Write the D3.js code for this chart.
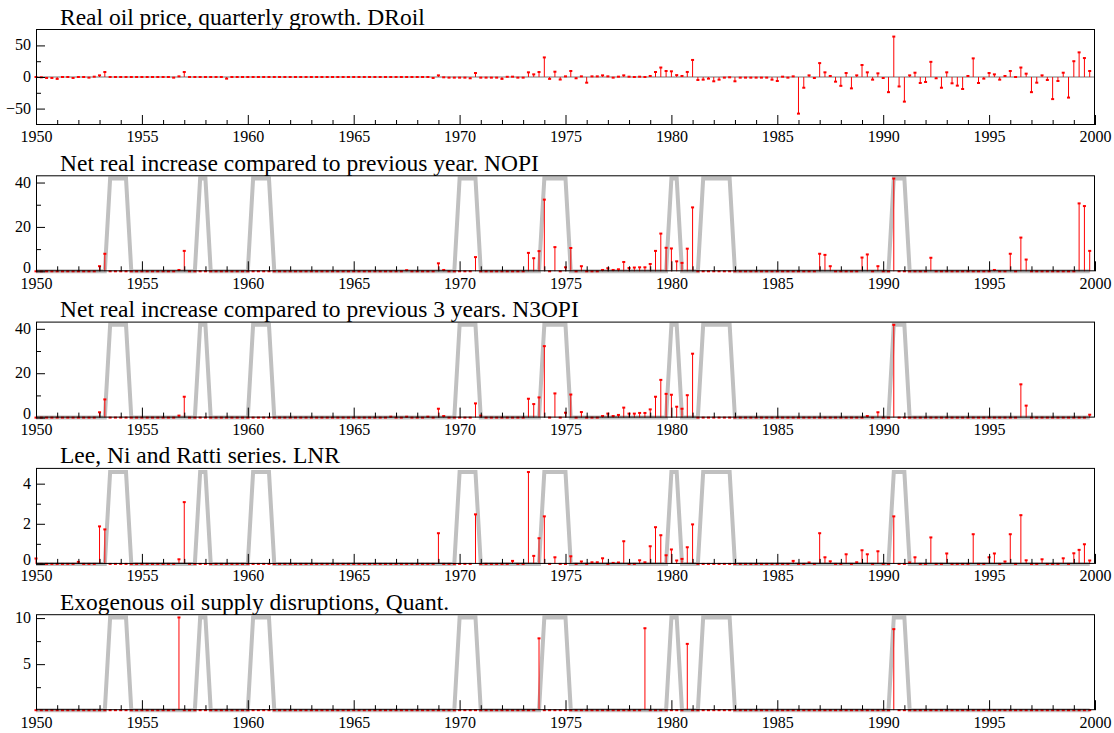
<!DOCTYPE html>
<html>
<head>
<meta charset="utf-8">
<script src="https://cdn.jsdelivr.net/npm/d3@7"></script>
<style>
  body { margin: 0; background: #fff; }
</style>
</head>
<body>
<svg id="chart" width="1114" height="733"></svg>
<script>
// ---------------- DATA ----------------
const titles = [
  "Real oil price, quarterly growth. DRoil",
  "Net real increase compared to previous year. NOPI",
  "Net real increase compared to previous 3 years. N3OPI",
  "Lee, Ni and Ratti series. LNR",
  "Exogenous oil supply disruptions, Quant."
];

// quarterly dates 1950Q1 .. 1999Q4 (year + (q-1)/4)
const quarters = d3.range(200).map(i => 1950 + i / 4);

// DRoil: every quarter, 1950Q1 .. 1999Q4
const droil = [
  0, -0.5, -1.5, -1.5, -3, 0, 0, -1.5, 0, 0,
  -1, 0.5, 2.6, 7.9, 0, 0, 0, 0, 0, 0,
  0, 0, 0, 0, 0, 0, -1, 1, 7.9, 0,
  0, 0, 0, 0, 0, 0, -2.6, 0, 0, 0,
  0, 0, 0, 0, 0, 0, 0, 0, 0, 0,
  0, 0, 0, 0, 0, 0, 0, 0, 0, 0,
  0, 0, 0, 0, 0, 0, 0, 0, 0, 0,
  0, 0, 0, 0, 0, -1.5, 2.6, -0.5, -1, -1,
  -1, -1, -2, 6.3, -1, -1, -1, -1, -3, 0.3,
  0.5, -1, -1, 7.4, 4.2, 7.9, 31, -3, 8.4, -4,
  1, 9.5, -2, 1, -9, 1, 1, 2.6, 1, -1,
  0.5, 2.6, 0.5, 0, 0.5, 0, 1.6, 7.9, 15, 9.5,
  9, 3, 1.6, 8, 27, -4.7, -4.2, -2.6, -6.8, -4.2,
  -1, -0.5, -6.8, -1, -1, -1, -1, -1, -1, -4.2,
  -6.3, 0.5, -1, 1, -58, -17, 2.6, -1.6, 22, 7.4,
  1.6, -7.4, -14, 6.3, -18, 2.6, 19, 7.4, -4.2, 5.8,
  -1.6, -24, 64, -15, -39, 2.6, 6.8, -9.5, -7.9, 24,
  -2, -17, 7.4, -10, -13.7, -19, 1.6, 29.5, -9.5, -2.6,
  6.3, 4.2, -4.2, 1.6, 9.5, 0, 15, 5.3, -24, -9,
  2.6, -4.7, -35, -6.3, 6.8, -32.6, 25, 39, 30, 9.5
];

// NOPI: non-zero quarters only (all other quarters are 0)
const nopiDates = [1953, 1953.25, 1956.75, 1957, 1967.5, 1969, 1969.25, 1970.75,
  1973.25, 1973.5, 1973.75, 1974, 1974.5, 1975, 1975.25, 1975.75, 1976.75,
  1977, 1977.25, 1977.5, 1977.75, 1978, 1978.25, 1978.5, 1978.75,
  1979, 1979.25, 1979.5, 1979.75, 1980, 1980.25, 1980.5, 1980.75, 1981,
  1987, 1987.25, 1987.5, 1989, 1989.25, 1989.75, 1990.5, 1992.25, 1995.25,
  1996, 1996.5, 1996.75, 1999.25, 1999.5, 1999.75];
const nopiValues = [2.3, 7.9, 0.6, 9.2, 0.5, 3.6, 0.6, 6.4,
  8.3, 5.9, 9.1, 32.3, 10.9, 1.8, 10.5, 2.3, 0.6,
  1.4, 0.6, 0.9, 4.2, 1.5, 1.7, 1.8, 1.8,
  3.3, 9.2, 17, 10.6, 10.3, 4.5, 3.8, 10.2, 28.8,
  7.9, 7.4, 2.3, 6.2, 7.6, 2.3, 41.8, 6.1, 0.6,
  7.9, 15.2, 5.3, 30.6, 29.4, 9.2];

// N3OPI
const n3opiDates = [1953, 1953.25, 1956.75, 1957, 1966.75, 1967.5, 1968.5, 1969, 1969.25,
  1970.75, 1971, 1973.25, 1973.5, 1973.75, 1974, 1974.5, 1975, 1975.25, 1975.75, 1976.75,
  1977, 1977.25, 1977.5, 1977.75, 1978, 1978.25, 1978.5, 1978.75,
  1979, 1979.25, 1979.5, 1979.75, 1980, 1980.25, 1980.5, 1980.75, 1981,
  1989.25, 1989.75, 1990.5, 1996.5, 1996.75, 1999.75];
const n3opiValues = [2.4, 8.2, 0.9, 9.4, 0.4, 0.4, 0.4, 4, 0.7,
  6.4, 0.9, 8.5, 6.1, 9.1, 32.2, 10.9, 2.2, 10.4, 2.5, 0.7,
  1.8, 0.7, 1.2, 4.5, 1.8, 1.8, 2.1, 2.1,
  3.7, 9.4, 17, 10.7, 10.3, 4.9, 4.0, 10.1, 28.8,
  0.7, 2.4, 41.8, 15, 5.4, 1.3];

// LNR
const lnrDates = [1950, 1952, 1953, 1953.25, 1956.75, 1957, 1969, 1970.75, 1972.5,
  1973.25, 1973.5, 1973.75, 1974, 1974.5, 1975.25, 1975.75, 1976.25, 1976.5, 1976.75,
  1977.25, 1977.5, 1977.75, 1978.5, 1978.75, 1979, 1979.25, 1979.5, 1979.75,
  1980, 1980.25, 1980.5, 1980.75, 1981, 1985.75, 1986.5, 1987, 1987.25, 1987.5,
  1988.25, 1988.75, 1989, 1989.25, 1989.75, 1990.5, 1991.25, 1991.5, 1992.25, 1993,
  1994.25, 1995, 1995.25, 1995.75, 1996, 1996.5, 1996.75, 1997.5, 1998.5,
  1999, 1999.25, 1999.5, 1999.75];
const lnrValues = [0.27, 0.1, 1.87, 1.72, 0.23, 3.08, 1.53, 2.47, 0.15,
  4.58, 0.4, 1.28, 2.37, 0.33, 0.38, 0.12, 0.08, 0.08, 0.28,
  0.05, 0.07, 1.13, 0.18, 0.08, 0.88, 1.83, 1.43, 0.43,
  0.72, 0.17, 0.25, 0.83, 1.97, 0.15, 0.07, 1.53, 0.33, 0.13,
  0.48, 0.08, 0.68, 0.48, 0.63, 2.37, 0.07, 0.33, 1.32, 0.52,
  1.48, 0.33, 0.52, 0.12, 1.48, 2.43, 0.18, 0.23, 0.28,
  0.53, 0.7, 0.98, 0.17];

// Quant (Hamilton exogenous disruptions)
const quantDates = [1956.75, 1973.75, 1978.75, 1980.75, 1990.5];
const quantValues = [10.07, 7.8, 8.9, 7.2, 8.8];

// Recessions: first and last recession quarter
const recessionStart = [1953.5, 1957.75, 1960.25, 1970.0, 1974.0, 1980.0, 1981.5, 1990.5];
const recessionEnd   = [1954.25, 1958.0, 1961.0, 1970.75, 1975.0, 1980.25, 1982.75, 1991.0];

// axis ticks
const xMajorTicks = [1950, 1955, 1960, 1965, 1970, 1975, 1980, 1985, 1990, 1995, 2000];
const xMajorTicksN3 = [1950, 1955, 1960, 1965, 1970, 1975, 1980, 1985, 1990, 1995];
const yTicks1 = [-50, 0, 50],  yMinor1 = [-25, 25];
const yTicks2 = [0, 20, 40],   yMinor2 = [10, 30];
const yTicks4 = [0, 2, 4],     yMinor4 = [1, 3];
const yTicks5 = [5, 10],       yMinor5 = [2.5, 7.5];

// ---------------- BUILD ----------------
const FONT = "'Liberation Serif', 'Times New Roman', Times, serif";
function fullSeries(dates, values) {
  return quarters.map(q => { const k = dates.indexOf(q); return k >= 0 ? values[k] : 0; });
}
const panels = [
  { title: titles[0], values: droil, domain: [-76, 76], yt: yTicks1, ym: yMinor1, rec: false, xt: xMajorTicks, zero: true },
  { title: titles[1], values: fullSeries(nopiDates, nopiValues), pad: 1.035, yt: yTicks2, ym: yMinor2, rec: true, xt: xMajorTicks },
  { title: titles[2], values: fullSeries(n3opiDates, n3opiValues), pad: 1.035, yt: yTicks2, ym: yMinor2, rec: true, xt: xMajorTicksN3 },
  { title: titles[3], values: fullSeries(lnrDates, lnrValues), pad: 1.045, yt: yTicks4, ym: yMinor4, rec: true, xt: xMajorTicks },
  { title: titles[4], values: fullSeries(quantDates, quantValues), pad: 1.035, yt: yTicks5, ym: yMinor5, rec: true, xt: xMajorTicks }
];

const svg = d3.select("#chart");
const L = 36, R = 1095;
const x = d3.scaleLinear().domain([1950, 2000]).range([L, R]);
const inRec = q => recessionStart.some((s, k) => q >= s && q <= recessionEnd[k]);

panels.forEach((p, i) => {
  const top = 29 + i * 146.3, bottom = top + 96;
  const maxV = d3.max(p.values);
  const dom = p.domain || [0, maxV * p.pad];
  const y = d3.scaleLinear().domain(dom).range([bottom, top]);
  const g = svg.append("g");

  g.append("text").attr("x", 60).attr("y", top - 4.5)
    .attr("font-family", FONT).attr("font-size", 23.5).attr("fill", "#000")
    .text(p.title);

  if (p.zero) {
    g.append("line").attr("x1", L).attr("x2", R).attr("y1", y(0)).attr("y2", y(0))
      .attr("stroke", "#777").attr("stroke-width", 1);
  }

  if (p.rec) {
    const pts = quarters.map(q => [q, inRec(q) ? maxV : 0]);
    const line = d3.line().x(d => x(d[0])).y(d => y(d[1]));
    g.append("path").attr("d", line(pts)).attr("fill", "none")
      .attr("stroke", "#c0c0c0").attr("stroke-width", 4)
      .attr("stroke-linejoin", "miter");
  }

  const data = quarters.map((q, k) => ({ q, v: p.values[k] }));
  g.selectAll("line.spike").data(data.filter(d => d.v !== 0)).join("line")
    .attr("class", "spike")
    .attr("x1", d => x(d.q)).attr("x2", d => x(d.q))
    .attr("y1", y(0)).attr("y2", d => y(d.v))
    .attr("stroke", "#ff0000").attr("stroke-width", 1);
  g.selectAll("rect.cap").data(data).join("rect")
    .attr("class", "cap")
    .attr("x", d => x(d.q) - 1.5).attr("y", d => y(d.v) - 1)
    .attr("width", 3).attr("height", 2).attr("fill", "#ff0000");

  // frame
  g.append("rect").attr("x", L + 0.5).attr("y", top + 0.5)
    .attr("width", R - L - 1).attr("height", bottom - top - 1)
    .attr("fill", "none").attr("stroke", "#000").attr("stroke-width", 1);

  // x axis
  const xa = g.append("g").attr("transform", `translate(0,${bottom})`)
    .call(d3.axisBottom(x).tickValues(p.xt).tickFormat(d3.format("d"))
      .tickSize(-10).tickPadding(6));
  xa.select(".domain").remove();
  xa.attr("font-family", FONT).attr("font-size", 16);
  xa.selectAll("text").attr("font-family", FONT).attr("font-size", 16).attr("fill", "#000");
  const xm = g.append("g").attr("transform", `translate(0,${bottom})`)
    .call(d3.axisBottom(x).tickValues(d3.range(1951, 2000).filter(v => v % 5 !== 0))
      .tickFormat("").tickSize(-5));
  xm.select(".domain").remove();

  // y axis
  const ya = g.append("g").attr("transform", `translate(${L},0)`)
    .call(d3.axisLeft(y).tickValues(p.yt).tickFormat(d3.format("~g")).tickSize(-9).tickPadding(5));
  ya.select(".domain").remove();
  ya.attr("font-family", FONT).attr("font-size", 16);
  ya.selectAll("text").attr("font-family", FONT).attr("font-size", 16).attr("fill", "#000")
    .attr("dy", d => (d === dom[0] ? "0.05em" : "0.28em"));
  const ym = g.append("g").attr("transform", `translate(${L},0)`)
    .call(d3.axisLeft(y).tickValues(p.ym).tickFormat("").tickSize(-5));
  ym.select(".domain").remove();
});
</script>
</body>
</html>
